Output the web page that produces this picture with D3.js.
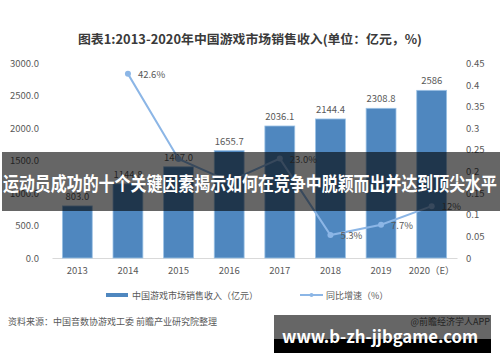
<!DOCTYPE html>
<html>
<head>
<meta charset="utf-8">
<script src="https://cdn.jsdelivr.net/npm/d3@7"></script>
<style>
  body { margin: 0; background: #fff; }
  svg text { font-family: "Noto Sans CJK SC", "Noto Sans", sans-serif; }
</style>
</head>
<body>
<div id="chart"></div>
<script>
const years = ["2013", "2014", "2015", "2016", "2017", "2018", "2019", "2020（E）"];
const revenue = [803.0, 1144.8, 1407.0, 1655.7, 2036.1, 2144.4, 2308.8, 2586];
const revenueLabels = ["803.0", "1144.8", "1407.0", "1655.7", "2036.1", "2144.4", "2308.8", "2586"];
const growth = [null, 0.426, 0.229, 0.177, 0.230, 0.053, 0.077, 0.12];
const growthLabels = [null, "42.6%", null, null, "23.0%", "5.3%", "7.7%", "12%"];
const leftTicks = [0, 500, 1000, 1500, 2000, 2500, 3000];
const rightTicks = [0, 0.05, 0.1, 0.15, 0.2, 0.25, 0.3, 0.35, 0.4, 0.45];

const width = 500, height = 362;
const plot = {left: 52, right: 457, top: 63.5, bottom: 258};

const svg = d3.select("#chart")
    .append("svg")
    .attr("width", width)
    .attr("height", height);

// title
svg.append("text")
    .attr("x", 250).attr("y", 44)
    .attr("text-anchor", "middle")
    .attr("font-size", 12.5)
    .attr("font-weight", "bold")
    .attr("fill", "#3a3a3a")
    .attr("textLength", 344)
    .attr("lengthAdjust", "spacingAndGlyphs")
    .text("图表1:2013-2020年中国游戏市场销售收入(单位：亿元，%)");

const x = d3.scaleBand()
    .domain(years)
    .range([plot.left, plot.right])
    .paddingInner(0.41)
    .paddingOuter(0.205);

const y = d3.scaleLinear().domain([0, 3000]).range([plot.bottom, plot.top]);
const y2 = d3.scaleLinear().domain([0, 0.45]).range([plot.bottom, plot.top]);

// left axis
const leftAxis = svg.append("g")
    .attr("transform", `translate(${plot.left - 10},0)`)
    .call(d3.axisLeft(y).tickValues(leftTicks).tickFormat(d3.format(".1f")).tickSize(0));
leftAxis.select(".domain").remove();
leftAxis.selectAll("text").attr("font-size", 9.5).attr("fill", "#595959").attr("dx", 0);

// right axis
const rightAxis = svg.append("g")
    .attr("transform", `translate(${plot.right + 6},0)`)
    .call(d3.axisRight(y2).tickValues(rightTicks).tickFormat(d => d === 0 ? "0" : String(+d.toFixed(2))).tickSize(0));
rightAxis.select(".domain").remove();
rightAxis.selectAll("text").attr("font-size", 9.5).attr("fill", "#595959");

// bottom axis
const bottomAxis = svg.append("g")
    .attr("transform", `translate(0,${plot.bottom})`)
    .call(d3.axisBottom(x).tickSize(0).tickPadding(9));
bottomAxis.select(".domain").attr("stroke", "#d9d9d9");
bottomAxis.selectAll("text").attr("font-size", 9.5).attr("fill", "#595959");

// bars
svg.append("g")
    .selectAll("rect")
    .data(revenue)
    .join("rect")
    .attr("x", (d, i) => x(years[i]))
    .attr("y", d => y(d))
    .attr("width", x.bandwidth())
    .attr("height", d => plot.bottom - y(d))
    .attr("fill", "#4f87bf")
    .attr("stroke", "#9cc2e5")
    .attr("stroke-width", 0.8);

svg.append("g")
    .selectAll("text")
    .data(revenue)
    .join("text")
    .attr("x", (d, i) => x(years[i]) + x.bandwidth() / 2)
    .attr("y", d => y(d) - 6)
    .attr("text-anchor", "middle")
    .attr("font-size", 9.5)
    .attr("fill", "#595959")
    .text((d, i) => revenueLabels[i]);

// growth line
const pts = growth.map((g, i) => ({g, i})).filter(p => p.g !== null);
const line = d3.line()
    .x(p => x(years[p.i]) + x.bandwidth() / 2)
    .y(p => y2(p.g));

svg.append("path")
    .datum(pts)
    .attr("d", line)
    .attr("fill", "none")
    .attr("stroke", "#8cb6e6")
    .attr("stroke-width", 2);

svg.append("g")
    .selectAll("circle")
    .data(pts)
    .join("circle")
    .attr("cx", p => x(years[p.i]) + x.bandwidth() / 2)
    .attr("cy", p => y2(p.g))
    .attr("r", 3)
    .attr("fill", "#8cb6e6");

svg.append("g")
    .selectAll("text")
    .data(pts.filter(p => growthLabels[p.i]))
    .join("text")
    .attr("x", p => x(years[p.i]) + x.bandwidth() / 2 + 10)
    .attr("y", p => y2(p.g) + 4)
    .attr("font-size", 9.5)
    .attr("fill", "#595959")
    .text(p => growthLabels[p.i]);

// legend
const legend = svg.append("g").attr("font-size", 9).attr("fill", "#595959");
legend.append("rect").attr("x", 106).attr("y", 293).attr("width", 22).attr("height", 4).attr("fill", "#4f87bf");
legend.append("text").attr("x", 132).attr("y", 298.5).text("中国游戏市场销售收入（亿元）");
legend.append("line").attr("x1", 300).attr("x2", 323).attr("y1", 295).attr("y2", 295)
    .attr("stroke", "#8cb6e6").attr("stroke-width", 2);
legend.append("circle").attr("cx", 311.5).attr("cy", 295).attr("r", 2).attr("fill", "#8cb6e6");
legend.append("text").attr("x", 326).attr("y", 298.5).text("同比增速（%）");

// source
svg.append("text")
    .attr("x", 8).attr("y", 325)
    .attr("font-size", 9).attr("fill", "#595959")
    .text("资料来源：中国音数协游戏工委 前瞻产业研究院整理");
svg.append("text")
    .attr("x", 490).attr("y", 325)
    .attr("text-anchor", "end")
    .attr("font-size", 9).attr("fill", "#595959")
    .text("@前瞻经济学人APP");

// overlay banner
svg.append("rect")
    .attr("x", 2).attr("y", 152)
    .attr("width", 498).attr("height", 59)
    .attr("fill", "rgba(0,0,0,0.6)");
svg.append("text")
    .attr("x", 250).attr("y", 191)
    .attr("text-anchor", "middle")
    .attr("font-size", 19)
    .attr("font-weight", "bold")
    .attr("fill", "#fff")
    .attr("textLength", 494)
    .attr("lengthAdjust", "spacingAndGlyphs")
    .text("运动员成功的十个关键因素揭示如何在竞争中脱颖而出并达到顶尖水平");

// bottom url box
svg.append("rect")
    .attr("x", 274).attr("y", 315)
    .attr("width", 217).attr("height", 38)
    .attr("fill", "rgba(0,0,0,0.6)");
svg.append("rect")
    .attr("x", 274).attr("y", 339)
    .attr("width", 217).attr("height", 14)
    .attr("fill", "#000");
svg.append("text")
    .attr("x", 380).attr("y", 343)
    .attr("text-anchor", "middle")
    .attr("font-size", 17)
    .attr("font-weight", "bold")
    .attr("fill", "#fff")
    .attr("textLength", 196)
    .attr("lengthAdjust", "spacingAndGlyphs")
    .text("www.b-zh-jjbgame.com");
</script>
</body>
</html>
